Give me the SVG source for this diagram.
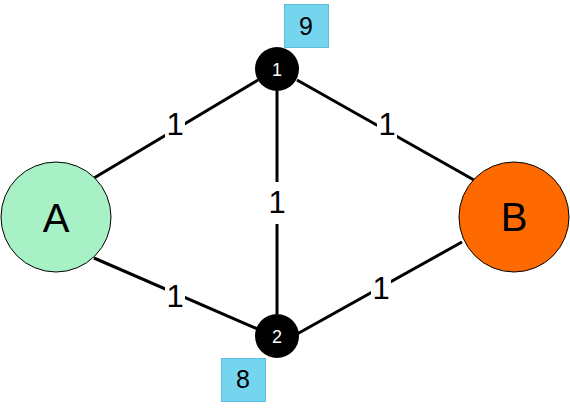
<svg xmlns="http://www.w3.org/2000/svg" width="570" height="411" viewBox="0 0 570 411">
<style>
.edge{stroke:#000;stroke-width:3;fill:none}
.lblbg{fill:#fff}
.lbl{font-family:"Liberation Sans",Arial,sans-serif;font-size:31px;fill:#000;text-anchor:middle}
.big{font-family:"Liberation Sans",Arial,sans-serif;font-size:40px;fill:#000;text-anchor:middle}
.small{font-family:"Liberation Sans",Arial,sans-serif;font-size:18px;fill:#fff;text-anchor:middle}
.box{fill:#75D5EF;stroke:#5CBEDD;stroke-width:1}
.boxt{font-family:"Liberation Sans",Arial,sans-serif;font-size:25px;fill:#000;text-anchor:middle}
</style>
<rect width="570" height="411" fill="#fff"/>
<g id="connectors">
<line class="edge" x1="94" y1="178" x2="258" y2="80"/>
<line class="edge" x1="94" y1="258" x2="260" y2="330"/>
<line class="edge" x1="297" y1="80" x2="474" y2="180"/>
<line class="edge" x1="297" y1="334" x2="462" y2="242"/>
<line class="edge" x1="277" y1="91" x2="277" y2="314"/>
<rect class="lblbg" x="165" y="104" width="20" height="40"/>
<text class="lbl" x="175" y="135">1</text>
<rect class="lblbg" x="377" y="106" width="20" height="40"/>
<text class="lbl" x="387" y="135">1</text>
<rect class="lblbg" x="267" y="182" width="20" height="42"/>
<text class="lbl" x="277" y="213">1</text>
<rect class="lblbg" x="165" y="276" width="20" height="40"/>
<text class="lbl" x="175" y="307">1</text>
<rect class="lblbg" x="371" y="268" width="20" height="40"/>
<text class="lbl" x="381" y="299">1</text>
</g>
<g id="nodeA">
<circle cx="56" cy="217" r="55" fill="#A8F0C5" stroke="#000" stroke-width="1"/>
<text class="big" x="56" y="232">A</text>
</g>
<g id="nodeB">
<circle cx="514" cy="217" r="55" fill="#FF6A00" stroke="#000" stroke-width="1"/>
<text class="big" x="514" y="231">B</text>
</g>
<g id="node1">
<circle cx="277" cy="69" r="22" fill="#000"/>
<text class="small" x="277" y="76">1</text>
</g>
<g id="node2">
<circle cx="277" cy="336" r="22" fill="#000"/>
<text class="small" x="277" y="343">2</text>
</g>
<g id="box9">
<rect class="box" x="284.5" y="4.5" width="44" height="43"/>
<text class="boxt" x="306" y="35">9</text>
</g>
<g id="box8">
<rect class="box" x="221.5" y="358.5" width="44" height="43"/>
<text class="boxt" x="243" y="388">8</text>
</g>
</svg>
